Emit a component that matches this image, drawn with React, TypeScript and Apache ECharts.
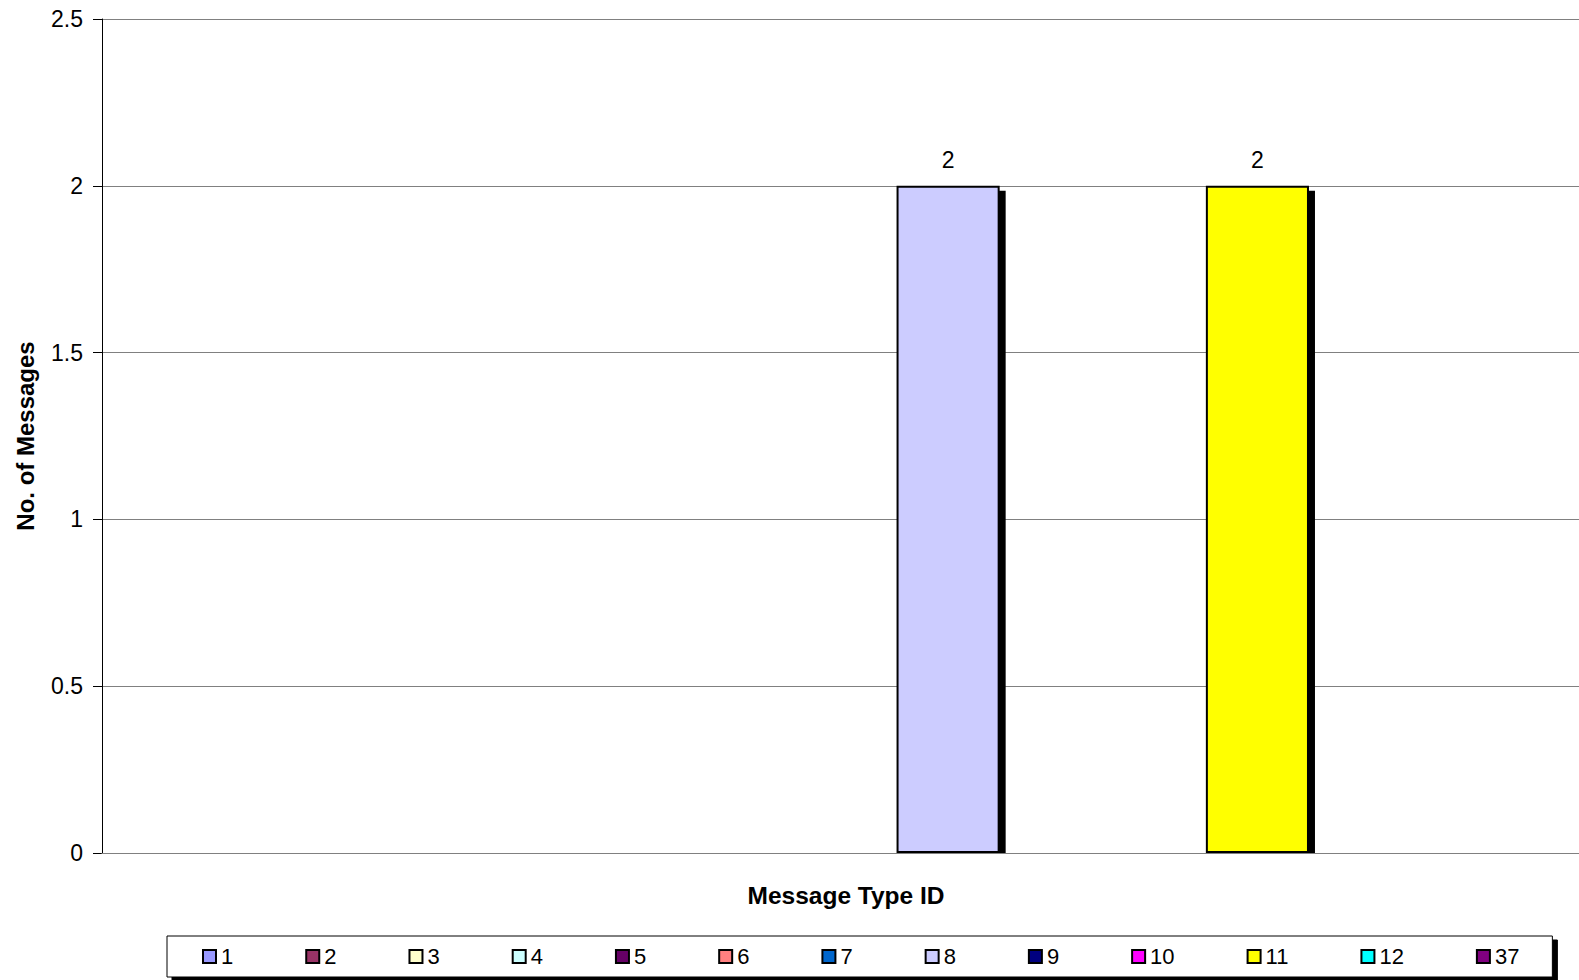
import React, { useEffect, useRef } from "react";
import * as echarts from "echarts";

const categories = [""];
const seriesNames = ["1", "2", "3", "4", "5", "6", "7", "8", "9", "10", "11", "12", "37"];
const seriesValues: (number | null)[] = [null, null, null, null, null, null, null, 2, null, null, 2, null, null];
const seriesColors = [
  "#9999FF", "#993366", "#FFFFCC", "#CCFFFF", "#660066", "#FF8080", "#0066CC",
  "#CCCCFF", "#000080", "#FF00FF", "#FFFF00", "#00FFFF", "#800080",
];
const yTicks = { min: 0, max: 2.5, interval: 0.5 };

const FONT = "'Liberation Sans', Arial, sans-serif";

export default function App() {
  const ref = useRef<HTMLDivElement>(null);
  useEffect(() => {
    if (!ref.current) return;
    const chart = echarts.init(ref.current, null, { renderer: "svg" });
    const series = seriesNames.map((name, i) => ({
      name,
      type: "bar",
      data: [seriesValues[i]],
      barGap: "0%",
      barCategoryGap: "9.8%",
      itemStyle: {
        color: seriesColors[i],
        borderColor: "#000",
        borderWidth: 2,
        shadowColor: "#000",
        shadowOffsetX: 6,
        shadowOffsetY: 5,
        shadowBlur: 0,
      },
      label: {
        show: true,
        position: "top",
        distance: 14,
        fontSize: 23,
        color: "#000",
        fontFamily: FONT,
        formatter: (p: any) => (p.value == null ? "" : String(p.value)),
      },
    }));
    chart.setOption({
      animation: false,
      backgroundColor: "#fff",
      textStyle: { fontFamily: FONT },
      grid: { left: 102, top: 19, width: 1486, height: 834, containLabel: false },
      graphic: [
        {
          type: "rect",
          z: 5,
          shape: { x: 103, y: 854, width: 1600, height: 8 },
          style: { fill: "#fff" },
          silent: true,
        },
      ],
      xAxis: {
        type: "category",
        z: 10,
        data: categories,
        name: "Message Type ID",
        nameLocation: "middle",
        nameGap: 30,
        nameTextStyle: {
          fontSize: 24.5,
          fontWeight: "bold",
          color: "#000",
          fontFamily: FONT,
          padding: [0, 0, 0, 2],
        },
        axisLine: { lineStyle: { color: "#808080", width: 1 } },
        axisTick: { show: false },
        axisLabel: { show: false },
      },
      yAxis: {
        type: "value",
        min: yTicks.min,
        max: yTicks.max,
        interval: yTicks.interval,
        name: "No. of Messages",
        nameLocation: "middle",
        nameGap: 65,
        nameTextStyle: { fontSize: 24, fontWeight: "bold", color: "#000", fontFamily: FONT },
        axisLine: { show: true, lineStyle: { color: "#000", width: 1 } },
        axisTick: { show: true, length: 9, lineStyle: { color: "#000" } },
        axisLabel: { fontSize: 23, color: "#000", margin: 19, fontFamily: FONT },
        splitLine: { show: true, lineStyle: { color: "#808080", width: 1 } },
      },
      legend: {
        left: 167,
        top: 936,
        orient: "horizontal",
        data: seriesNames,
        itemWidth: 13,
        itemHeight: 13,
        itemGap: 72,
        padding: [9.5, 33, 9.5, 35],
        icon: "rect",
        backgroundColor: "#fff",
        borderColor: "#000",
        borderWidth: 1,
        shadowColor: "#000",
        shadowOffsetX: 5,
        shadowOffsetY: 4,
        shadowBlur: 0,
        itemStyle: { borderColor: "#000", borderWidth: 2 },
        textStyle: { fontSize: 22, color: "#000", fontFamily: FONT },
      },
      series,
    });
    return () => chart.dispose();
  }, []);
  return (
    <div
      style={{
        position: "absolute",
        left: 0,
        top: 0,
        width: 1579,
        height: 980,
        overflow: "hidden",
        background: "#fff",
      }}
    >
      <div ref={ref} style={{ width: 1720, height: 980 }} />
    </div>
  );
}
